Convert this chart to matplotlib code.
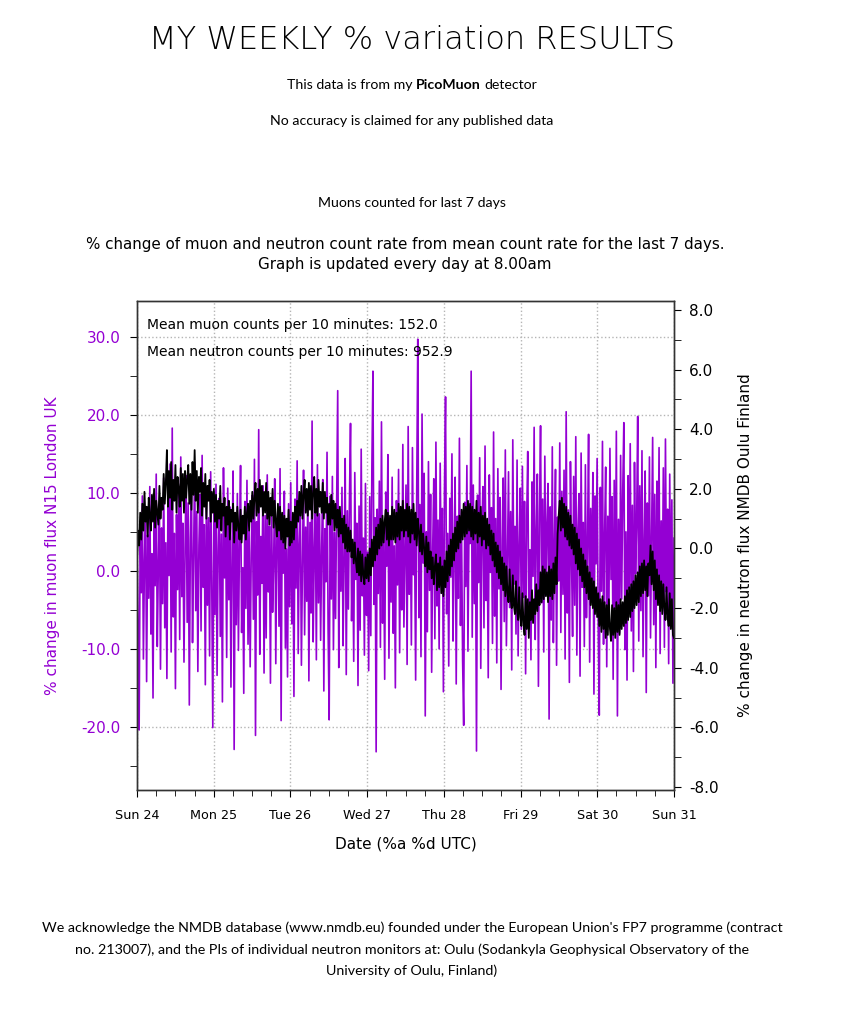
import numpy as np
import pandas as pd
import matplotlib
matplotlib.use('Agg')
import matplotlib.pyplot as plt
import matplotlib.dates as mdates
from matplotlib.ticker import MultipleLocator, FormatStrFormatter

plt.rcParams['font.family'] = ['DejaVu Sans']

# % change of muon counts (20 minute samples, Sun 24 -> Sun 31)
muon_pct = [
    3.1, -6.4, -20.4, 5.2, -2.8, 9.6, -11.3, 1.4, 7.9, -14.2, 4.6, -3.5, 10.8, -8.1, 2.2, -16.3, 6.7, -1.9, 12.4, -9.7, 0.8, 8.3, -12.6, 5.5,
    -4.2, 11.9, -7.3, 3.6, -13.8, 9.1, -0.6, 13.7, -10.4, 18.3, -5.9, 4.8, -15.1, 7.2, -2.4, 10.3, -8.8, 14.6, -3.3, 6.1, -11.7, 2.9, 12.2, -6.6,
    8.7, -17.2, 4.1, 11.4, -9.2, 1.7, 13.9, -5.1, 7.6, -12.9, 3.3, 9.8, -7.7, 14.8, -2.1, 5.9, -14.6, 10.1, -4.4, 6.8, -10.9, 12.7, -1.2, -20.1,
    7.4, -5.6, 11.1, -13.4, 2.6, 9.3, -8.4, 4.7, -16.8, 13.2, -0.9, 6.4, -11.1, 10.6, -3.7, 8.2, -14.9, 1.9, 12.8, -22.9, 5.3, -6.9, 9.9, -10.2,
    3.8, 13.5, -7.9, 0.4, -15.7, 8.9, -4.8, 11.6, -9.4, 5.1, -12.3, 2.3, 9.7, -6.2, 14.3, -21.1, 6.3, -3.1, 18.1, -10.7, 4.4, -1.6, 10.9, -13.1,
    7.1, -8.6, 12.3, -2.7, 5.7, -14.4, 9.4, -5.3, 1.1, 11.8, -11.9, 3.9, 8.1, -7.1, 13.1, -19.2, 6.9, -0.3, 10.2, -9.9, 2.8, -13.6, 8.6, -4.6,
    11.3, -6.8, 4.3, -16.1, 9.2, -2.2, 14.1, -10.6, 3.4, 7.8, -12.1, 1.3, 12.9, -8.2, 5.6, -3.9, 10.4, -14.1, 6.2, -5.4, 19.2, -9.1, 2.1, 8.4,
    -11.4, 13.6, -4.1, 7.3, -8.9, 3.1, 11.7, -15.4, 5.4, -1.4, 15.2, -7.4, -19.1, 9.6, -3.6, 12.1, -10.1, 4.9, -6.1, 8.8, 23.1, -12.4, 6.6, -2.6,
    10.7, -9.6, 1.6, 14.4, -13.3, 7.7, -4.9, 9.1, 18.9, -6.4, 3.7, -11.6, 12.6, -1.1, 6.1, -14.7, 8.3, -7.6, 15.6, -3.2, 4.2, -10.8, 11.2, -5.7,
    2.4, -12.8, 9.5, -8.3, 13.3, 25.6, -4.3, 6.8, -23.2, 7.9, -2.9, 11.5, -9.8, 19.1, -6.7, 4.5, -13.9, 10.1, 0.6, 14.9, -11.2, 5.8, -4.0, 12.0,
    -8.0, 3.2, -15.0, 9.0, -1.8, 13.0, -10.5, 6.0, -5.0, 16.2, -7.2, 2.0, 11.0, -12.0, 18.5, -3.0, 7.5, -9.5, 15.8, -0.5, 4.0, -14.0, 10.0, 29.7,
    -6.0, 8.5, -11.0, 20.1, 1.0, 12.5, -18.6, 5.0, -7.8, 14.0, -2.5, 9.8, -13.0, 3.0, 11.8, -8.7, 16.5, -4.5, 6.5, -10.0, 13.8, -1.0, 8.0, -15.5,
    10.5, 22.3, -5.5, 4.8, -12.2, 9.3, -0.8, 15.0, -9.0, 2.5, 12.0, -14.5, 7.0, -3.5, 17.0, -7.0, 5.5, -11.5, -19.8, 8.8, -2.0, 13.5, -10.3, 6.3,
    3.5, 25.6, -8.5, 11.0, -4.2, 7.2, -23.1, 9.7, -1.5, 14.5, -12.5, 4.6, 10.8, -7.3, 16.0, -3.8, 5.2, -13.7, 12.3, -0.2, 8.1, -9.3, 17.8, -5.8,
    6.7, -11.8, 13.1, -2.3, 9.4, -15.2, 4.1, 11.9, -6.5, 15.5, -9.6, 1.2, 12.7, -4.7, 7.6, -12.7, 16.8, -1.7, 5.7, -8.1, 14.2, -10.9, 3.3, 10.6,
    -7.5, 13.4, -3.4, 8.9, -13.2, 6.4, 15.3, -5.2, 2.7, -11.4, 11.4, -0.7, 18.4, -8.8, 4.9, 12.4, -14.8, 7.4, 18.6, -4.1, 9.2, -10.4, 14.7, -2.8,
    5.9, 11.2, -19.0, 8.2, -6.3, 15.9, -9.2, 3.6, 13.0, -12.1, 6.9, -1.3, 16.4, -7.9, 10.2, -3.0, 12.9, -11.3, 20.4, -5.4, 7.8, -14.3, 14.0, 1.8,
    -8.4, 12.1, -4.4, 17.2, -10.8, 5.3, 9.9, -13.5, 15.1, -2.1, 6.2, -9.7, 13.6, -6.0, 3.8, 17.5, -11.7, 8.0, -3.3, 12.6, -15.8, 9.6, 0.9, 14.4,
    -7.1, -18.5, 10.7, -2.6, 16.6, -9.4, 4.7, 13.3, -12.3, 7.0, -5.6, 15.7, -1.1, 9.5, -13.9, 11.6, -4.8, 17.9, -18.6, 6.6, -8.0, 14.8, -3.6, 10.3,
    19.0, -10.1, 5.0, -14.0, 12.2, -2.4, 16.3, -7.7, 8.4, -12.9, 13.9, -0.4, 6.0, 19.8, -9.0, 10.9, -5.1, 15.4, -11.0, 3.9, 12.8, -15.6, 8.7, -3.2,
    14.6, -8.6, 4.3, 17.1, -6.9, 9.8, -12.4, 11.5, -1.9, 15.8, -10.6, 6.4, -4.3, 13.2, -9.8, 16.9, -2.7, 7.9, -11.9, 12.4, -6.2, 9.1, -14.4, 4.2,
]

# % change of Oulu neutron counts (same samples)
neutron_pct = [
    -0.4, 0.6, 0.1, 1.2, 0.3, 1.5, 0.6, 1.9, 0.9, 1.4, 0.4, 1.7, 1.1, 0.6, 1.8, 0.9, 2.0, 0.7, 1.6, 1.2, 0.8, 2.1, 1.0, 1.7,
    1.3, 2.5, 1.5, 2.2, 3.3, 1.4, 2.6, 1.7, 2.9, 1.3, 2.3, 1.6, 2.8, 1.2, 2.4, 2.0, 1.4, 2.7, 1.6, 2.5, 1.2, 2.6, 1.7, 2.3,
    2.8, 1.5, 2.5, 1.3, 2.9, 1.8, 3.3, 1.6, 2.6, 1.2, 2.4, 1.9, 2.7, 1.1, 2.2, 1.4, 2.5, 1.0, 2.1, 1.6, 2.3, 0.9, 1.9, 1.2,
    2.0, 0.9, 1.8, 0.7, 1.6, 1.0, 2.1, 0.6, 1.5, 1.1, 1.7, 0.4, 1.4, 0.8, 1.6, 0.3, 1.3, 0.9, 1.5, 0.2, 1.2, 0.6, 1.4, 0.7,
    0.3, 1.3, 0.2, 1.1, 0.5, 1.4, 0.3, 1.2, 1.5, 0.6, 1.6, 0.9, 1.9, 1.0, 1.7, 2.2, 1.1, 2.0, 1.2, 2.3, 1.4, 2.1, 1.1, 1.9,
    1.2, 2.2, 1.0, 1.9, 0.8, 1.7, 1.1, 2.0, 0.7, 1.6, 0.9, 0.4, 1.5, 0.6, 1.4, 0.3, 1.2, 0.2, 1.1, 0.0, 1.0, 0.4, 1.3, 0.1,
    0.9, 0.2, 1.2, 0.3, 1.4, 0.7, 1.6, 0.9, 1.9, 1.1, 2.1, 1.0, 1.8, 2.3, 1.2, 2.0, 1.1, 2.2, 1.3, 2.1, 1.0, 1.9, 2.4, 1.2,
    2.0, 1.1, 2.3, 1.4, 1.9, 1.2, 2.2, 1.0, 1.9, 1.2, 1.7, 0.8, 1.5, 0.8, 1.8, 1.0, 1.6, 0.6, 1.5, 0.7, 1.3, 0.4, 1.4, 0.5,
    1.0, 0.2, 1.1, 0.0, 0.8, -0.1, 0.7, -0.1, 0.6, -0.3, 0.3, -0.5, 0.2, -0.4, -0.8, 0.0, -0.9, -0.1, -1.1, -0.2, -0.9, -1.2, -0.3, -1.0,
    -0.2, -1.1, 0.0, -0.9, 0.3, -0.6, 0.4, -0.4, 0.7, -0.2, 0.8, 0.0, 1.0, 0.1, 1.1, 0.2, 0.9, 1.3, 0.3, 1.2, 0.1, 1.1, 0.3, 1.4,
    0.3, 1.3, 0.2, 1.2, 0.4, 1.5, 0.3, 1.4, 0.6, 1.6, 0.4, 1.3, 0.6, 1.5, 0.4, 1.4, 0.2, 1.3, 0.5, 1.5, 0.3, 1.2, 0.1, 1.0,
    0.6, -0.1, 0.8, -0.2, 0.5, 0.0, -0.6, 0.4, -0.8, 0.2, -0.7, -0.1, -1.0, -0.3, -1.2, -0.6, -0.2, -1.4, -0.5, -1.3, -0.3, -1.5, -0.6, -1.6,
    -0.4, -1.3, -0.1, -1.1, 0.1, -0.9, 0.3, -0.6, 0.5, -0.4, 0.7, -0.1, 0.9, 0.0, 1.1, 0.2, 1.3, 0.3, 1.5, 0.4, 1.4, 0.5, 1.6, 0.6,
    1.5, 0.4, 1.4, 0.3, 1.3, 0.5, 1.6, 0.2, 1.2, 0.4, 1.4, 0.1, 1.1, 0.3, 1.2, 0.0, 1.0, 0.1, 0.8, -0.2, 0.6, -0.4, 0.5, -0.6,
    0.2, -0.8, 0.1, -1.0, -0.1, -1.2, -0.3, -1.4, -0.5, -1.6, -0.6, -1.5, -1.8, -0.7, -1.7, -2.0, -0.9, -1.9, -2.2, -1.1, -2.1, -2.4, -1.3, -2.3,
    -2.6, -1.5, -2.5, -2.9, -1.6, -2.7, -1.7, -3.0, -1.8, -2.4, -1.4, -2.5, -1.7, -2.2, -1.2, -2.1, -1.4, -1.9, -0.8, -1.8, -0.6, -1.7, -0.7, -1.6,
    -0.8, -1.8, -0.6, -1.6, -0.7, -1.7, -0.5, -1.5, -0.3, -1.2, 0.5, 1.1, 1.6, 0.6, 1.7, 0.7, 1.5, 0.4, 1.4, 0.3, 1.2, 0.1, 1.1, 0.0,
    0.8, -0.2, 0.7, -0.5, 0.5, -0.7, 0.3, -0.9, 0.0, -1.1, -0.2, -1.3, -0.4, -1.5, -0.6, -1.7, -0.8, -1.9, -1.0, -2.0, -1.1, -2.2, -1.3, -2.3,
    -1.5, -2.6, -1.7, -2.8, -1.6, -2.7, -1.8, -3.0, -1.9, -2.9, -1.7, -2.7, -3.1, -1.9, -2.9, -2.0, -3.0, -1.8, -2.8, -1.9, -2.9, -1.7, -2.7, -1.8,
    -2.6, -1.6, -2.5, -1.4, -2.4, -1.3, -2.3, -1.2, -2.1, -1.1, -2.0, -0.9, -1.9, -0.8, -1.8, -0.6, -1.6, -0.5, -1.5, -0.4, -1.4, -0.6, -1.6, -0.5,
    -0.9, 0.1, -1.2, -0.1, -1.4, -0.4, -1.7, -0.7, -1.9, -0.9, -2.1, -1.1, -2.2, -1.2, -2.0, -2.4, -1.3, -2.3, -2.6, -1.5, -2.7, -1.7, -2.9, -3.0,
]

mean_muon = 152.0
mean_neutron = 952.9

ack_lines = [
    "We acknowledge the NMDB database (www.nmdb.eu) founded under the European Union's FP7 programme (contract",
    "no. 213007), and the PIs of individual neutron monitors at: Oulu (Sodankyla Geophysical Observatory of the",
    "University of Oulu, Finland)",
]

PURPLE = '#9400d3'
times = pd.date_range('2021-01-24 00:00', '2021-01-31 00:00', periods=len(muon_pct))

W, H = 850, 1024
fig = plt.figure(figsize=(W / 100, H / 100), dpi=100)
fig.patch.set_facecolor('white')

ax = fig.add_axes([137 / W, 1 - 790 / H, 537 / W, 489 / H])
ax2 = ax.twinx()

ax.plot(times, muon_pct, color=PURPLE, lw=1.2)
ax2.plot(times, neutron_pct, color='black', lw=1.3)

ax.set_xlim(times[0], times[-1])
ax.set_ylim(-28.1, 34.6)
ax2.set_ylim(-8.1, 8.3)

ax.xaxis.set_major_locator(mdates.DayLocator())
ax.xaxis.set_minor_locator(mdates.HourLocator(byhour=[6, 12, 18]))
ax.xaxis.set_major_formatter(mdates.DateFormatter('%a %d'))
ax.yaxis.set_major_locator(MultipleLocator(10))
ax.yaxis.set_minor_locator(MultipleLocator(5))
ax.yaxis.set_major_formatter(FormatStrFormatter('%.1f'))
ax2.yaxis.set_major_locator(MultipleLocator(2))
ax2.yaxis.set_minor_locator(MultipleLocator(1))
ax2.yaxis.set_major_formatter(FormatStrFormatter('%.1f'))

ax.tick_params(axis='x', which='major', direction='out', length=5, pad=9, labelsize=9.2)
ax.tick_params(axis='x', which='minor', direction='out', length=4)
ax.tick_params(axis='y', which='both', direction='out', length=5, pad=7,
               labelsize=11, labelcolor=PURPLE)
ax2.tick_params(axis='y', which='both', direction='out', length=5, pad=6, labelsize=11)

ax.grid(True, which='major', linestyle=':', color='#b5b5b5', lw=1.0)
for a in (ax, ax2):
    for s in a.spines.values():
        s.set_color('#333333')
        s.set_linewidth(1.0)

ax.set_xlabel('Date (%a %d UTC)', fontsize=11, labelpad=10)
ax.set_ylabel('% change in muon flux N15 London UK', fontsize=11, color=PURPLE)
ax.yaxis.set_label_coords(-0.143, 0.5)
ax2.set_ylabel('% change in neutron flux NMDB Oulu Finland', fontsize=11, rotation=90)
ax2.yaxis.set_label_coords(1.119, 0.5)

ax.text(0.019, 0.951, 'Mean muon counts per 10 minutes: %.1f' % mean_muon,
        transform=ax.transAxes, fontsize=10, va='center')
ax.text(0.019, 0.896, 'Mean neutron counts per 10 minutes: %.1f' % mean_neutron,
        transform=ax.transAxes, fontsize=10, va='center')

# page text
cx = 412 / W
fig.text(cx, 1 - 40 / H, 'MY WEEKLY % variation RESULTS', ha='center', va='center',
         fontsize=23, family='DejaVu Sans', weight='light')

renderer = fig.canvas.get_renderer()
def text_w(s, **kw):
    t = fig.text(0, 0, s, **kw)
    w = t.get_window_extent(renderer).width
    t.remove()
    return w

kw = dict(fontsize=10.2, family='Lato')
w1 = text_w('This data is from my', **kw)
w2 = text_w('PicoMuon', weight='bold', **kw)
w3 = text_w('detector', **kw)
ws = text_w('x x', **kw) - text_w('xx', **kw)
x0 = 412 - (w1 + w2 + w3 + 2 * ws) / 2
yy = 1 - 85 / H
fig.text(x0 / W, yy, 'This data is from my', ha='left', va='center', **kw)
fig.text((x0 + w1 + ws) / W, yy, 'PicoMuon', ha='left', va='center', weight='bold', **kw)
fig.text((x0 + w1 + w2 + 2 * ws) / W, yy, 'detector', ha='left', va='center', **kw)

fig.text(cx, 1 - 121 / H, 'No accuracy is claimed for any published data', ha='center', va='center', **kw)
fig.text(cx, 1 - 203 / H, 'Muons counted for last 7 days', ha='center', va='center', **kw)

sx = 405 / W
fig.text(sx, 1 - 245 / H, '% change of muon and neutron count rate from mean count rate for the last 7 days.',
         ha='center', va='center', fontsize=10.9)
fig.text(sx, 1 - 265 / H, 'Graph is updated every day at 8.00am', ha='center', va='center', fontsize=10.9)

for i, line in enumerate(ack_lines):
    fig.text(cx, 1 - (928 + 21.5 * i) / H, line, ha='center', va='center', fontsize=10.25, family='Lato')

fig.savefig('out.png', dpi=100, facecolor='white')
